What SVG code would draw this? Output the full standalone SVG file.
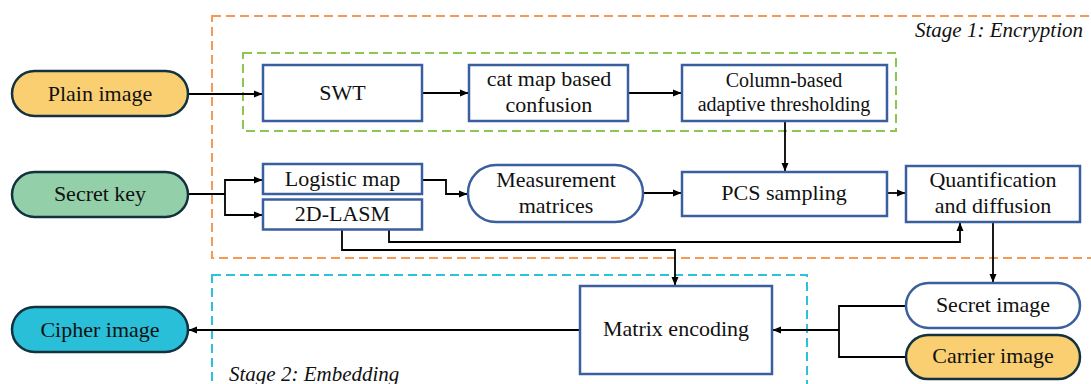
<svg xmlns="http://www.w3.org/2000/svg" width="1091" height="384" viewBox="0 0 1091 384" font-family="Liberation Serif, Times New Roman, serif">
  <style>
    .lbl { font-size: 22px; fill: #111; text-anchor: middle; }
    .sm { font-size: 20px; }
    .stage { font-size: 21px; font-style: italic; fill: #111; }
    .box { fill: #ffffff; stroke: #3A5F9E; stroke-width: 2.5; }
    .term { stroke: #12323F; stroke-width: 2.5; }
    .wire { fill: none; stroke: #000; stroke-width: 1.8; }
    .arrow { fill: none; stroke: #000; stroke-width: 1.8; marker-end: url(#ah); }
    .frame { fill: none; stroke-width: 2; stroke-dasharray: 9 5; }
  </style>
  <defs>
    <marker id="ah" markerUnits="userSpaceOnUse" markerWidth="9" markerHeight="8" refX="8" refY="4" orient="auto">
      <path d="M0,0.5 L8.5,4 L0,7.5 z" fill="#000"/>
    </marker>
  </defs>

  <rect width="1091" height="384" fill="#ffffff"/>

  <!-- stage frames -->
  <g id="stage1">
    <rect class="frame" x="212" y="16" width="895" height="242" stroke="#F59A55"/>
    <text class="stage" x="1083" y="37" text-anchor="end">Stage 1: Encryption</text>
  </g>
  <g id="encryption-core">
    <rect class="frame" x="243" y="53" width="653" height="78" stroke="#8CC653"/>
  </g>
  <g id="stage2">
    <rect class="frame" x="212" y="275" width="595" height="130" stroke="#2CC2DC"/>
    <text class="stage" x="229" y="381">Stage 2: Embedding</text>
  </g>

  <!-- connectors -->
  <g id="connectors">
    <path class="arrow" d="M188,94 H262"/>
    <path class="arrow" d="M422,93 H468"/>
    <path class="arrow" d="M628,93 H681"/>
    <path class="arrow" d="M785,121 V171"/>
    <path class="wire" d="M188,194 H225"/>
    <path class="arrow" d="M225,194 V180 H262"/>
    <path class="arrow" d="M225,194 V215 H262"/>
    <path class="arrow" d="M422,180 H446 V194 H467"/>
    <path class="arrow" d="M643,193 H681"/>
    <path class="arrow" d="M887,193 H905"/>
    <path class="arrow" d="M389,230 V242 H960 V223"/>
    <path class="arrow" d="M342,230 V250 H675 V285"/>
    <path class="arrow" d="M993,222 V282"/>
    <path class="wire" d="M906,306 H839 V357 H906"/>
    <path class="arrow" d="M839,330 H773"/>
    <path class="arrow" d="M580,330 H189"/>
  </g>

  <!-- nodes -->
  <g id="plain-image">
    <rect class="term" x="12" y="71" width="176" height="45" rx="22.5" fill="#F9CF72"/>
    <text class="lbl" x="100" y="101">Plain image</text>
  </g>
  <g id="secret-key">
    <rect class="term" x="12" y="172" width="176" height="45" rx="22.5" fill="#93CFA9"/>
    <text class="lbl" x="100" y="201">Secret key</text>
  </g>
  <g id="cipher-image">
    <rect class="term" x="12" y="307" width="176" height="45" rx="22.5" fill="#29BFD8"/>
    <text class="lbl" x="100" y="337">Cipher image</text>
  </g>
  <g id="swt">
    <rect class="box" x="263" y="65" width="159" height="56"/>
    <text class="lbl" x="342.5" y="100">SWT</text>
  </g>
  <g id="cat-map">
    <rect class="box" x="469" y="65" width="159" height="56"/>
    <text class="lbl" x="549" y="86">cat map based</text>
    <text class="lbl" x="549" y="112">confusion</text>
  </g>
  <g id="column-threshold">
    <rect class="box" x="682" y="65" width="205" height="56"/>
    <text class="lbl sm" x="784" y="87">Column-based</text>
    <text class="lbl sm" x="784" y="111">adaptive thresholding</text>
  </g>
  <g id="logistic-map">
    <rect class="box" x="263" y="164" width="159" height="30"/>
    <text class="lbl" x="342.5" y="186">Logistic map</text>
  </g>
  <g id="lasm">
    <rect class="box" x="263" y="199.5" width="159" height="30"/>
    <text class="lbl" x="342.5" y="221">2D-LASM</text>
  </g>
  <g id="measurement">
    <rect class="box" x="468" y="165" width="175" height="57" rx="28"/>
    <text class="lbl" x="556" y="187">Measurement</text>
    <text class="lbl" x="556" y="213">matrices</text>
  </g>
  <g id="pcs">
    <rect class="box" x="682" y="172" width="205" height="44"/>
    <text class="lbl" x="784" y="200">PCS sampling</text>
  </g>
  <g id="quantification">
    <rect class="box" x="906" y="166" width="174" height="56"/>
    <text class="lbl" x="993" y="187">Quantification</text>
    <text class="lbl" x="993" y="213">and diffusion</text>
  </g>
  <g id="secret-image">
    <rect class="box" x="906" y="283" width="174" height="45" rx="22.5"/>
    <text class="lbl" x="993" y="312">Secret image</text>
  </g>
  <g id="carrier-image">
    <rect class="term" x="906" y="335" width="174" height="44" rx="22" fill="#F9CF72"/>
    <text class="lbl" x="993" y="363">Carrier image</text>
  </g>
  <g id="matrix-encoding">
    <rect class="box" x="580" y="286" width="192" height="88"/>
    <text class="lbl" x="676" y="336">Matrix encoding</text>
  </g>
</svg>
